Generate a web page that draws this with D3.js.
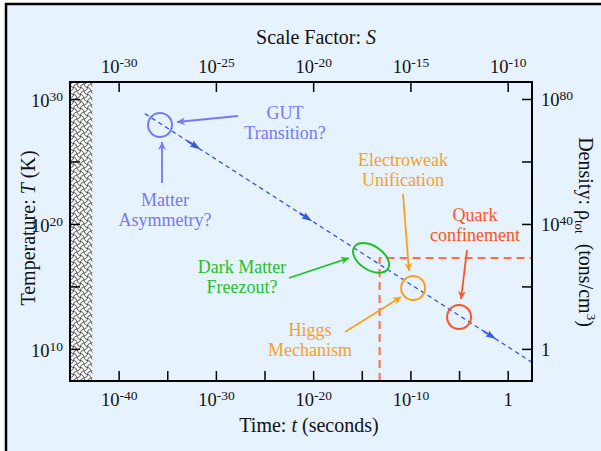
<!DOCTYPE html>
<html>
<head>
<meta charset="utf-8">
<script src="https://cdn.jsdelivr.net/npm/d3@7"></script>
<style>
  body { margin: 0; background: #fff; }
  text { font-family: "Liberation Serif", "Times New Roman", serif; }
</style>
</head>
<body>
<svg width="601" height="451"></svg>
<script>
(() => {

    // tick values
    var timeTicks = [1e-40, 1e-35, 1e-30, 1e-25, 1e-20, 1e-15, 1e-10, 1e-5, 1];
    var timeLabeled = [-40, -30, -20, -10, 0];
    var scaleTicks = [1e-30, 1e-25, 1e-20, 1e-15, 1e-10];
    var scaleLabeled = [-30, -25, -20, -15, -10];
    var tempTicks = [1e10, 1e15, 1e20, 1e25, 1e30];
    var tempLabeled = [10, 20, 30];
    var densTicks = [1, 1e20, 1e40, 1e60, 1e80];
    var densLabeled = [0, 40, 80];

    // cooling line T(t)
    var lineTimes = [5e-38, 300];
    var lineTemps = [6.7e28, 8.7e8];
    // little arrows along the line
    var flowTimes = [1e-32, 3e-21, 0.025];
    var flowTemps = [1.5e26, 2.7e20, 9.5e10];

    // events on the line
    var eventNames = ["GUT", "Electroweak", "Quark"];
    var eventTimes = [1.8e-36, 1.9e-10, 1e-5];
    var eventTemps = [8.3e27, 7.5e14, 3.6e12];
    var darkTime = 9e-15, darkTemp = 1.9e17;

    // dashed reference lines
    var refTime = 6.8e-14, refTemp = 1.9e17;
    var planckTime = 2e-43;

    var margin = { top: 82, right: 69, bottom: 70, left: 70 };
    var width = 601, height = 451;

    var svg = d3.select('svg');

    var bg = '#e6f2fe';
    var purple = '#7878f2', orange = '#f9a11b', green = '#1fc028', red = '#ff5422';

    // outer frame
    svg.append('rect').attr('x', 6).attr('y', 4).attr('width', 700).attr('height', 600)
        .attr('fill', bg).attr('stroke', '#000').attr('stroke-width', 2.5);

    // scales
    var x = d3.scaleLog().domain([1e-45, Math.pow(10, 2.5)]).range([margin.left, width - margin.right]);
    var xTop = d3.scaleLog().domain([Math.pow(10, -32.5), Math.pow(10, -8.75)]).range([margin.left, width - margin.right]);
    var y = d3.scaleLog().domain([Math.pow(10, 7.43), Math.pow(10, 31.36)]).range([height - margin.bottom, margin.top]);
    var yRight = d3.scaleLog().domain([Math.pow(10, -10.28), Math.pow(10, 85.44)]).range([height - margin.bottom, margin.top]);

    var defs = svg.append('defs');
    var pat = defs.append('pattern').attr('id', 'hatch').attr('patternUnits', 'userSpaceOnUse')
        .attr('width', 7).attr('height', 7);
    pat.append('rect').attr('width', 7).attr('height', 7).attr('fill', '#fff');
    pat.append('path').attr('d', 'M0,0 Q1,4 3.5,3.5 T7,7 M7,0 Q3,1 3.5,3.5 T0,7')
        .attr('stroke', '#222').attr('stroke-width', 0.75).attr('fill', 'none');

    [['purple', purple], ['orange', orange], ['green', green], ['red', red]].forEach(function (c) {
        defs.append('marker').attr('id', 'arr-' + c[0]).attr('viewBox', '0 0 10 10')
            .attr('refX', 10).attr('refY', 5).attr('markerUnits', 'userSpaceOnUse')
            .attr('markerWidth', 11).attr('markerHeight', 8).attr('orient', 'auto')
            .append('path').attr('d', 'M0,0 L10,5 L0,10 L3,5 Z').attr('fill', c[1]);
    });

    // hatched pre-Planck region
    svg.append('rect')
        .attr('x', x(1e-45)).attr('y', margin.top)
        .attr('width', x(planckTime) - x(1e-45))
        .attr('height', height - margin.bottom - margin.top)
        .attr('fill', 'url(#hatch)');

    // dashed reference lines
    svg.append('path')
        .attr('d', 'M' + x(refTime) + ',' + y(Math.pow(10, 7.43)) + 'V' + y(refTemp) + 'H' + (width - margin.right))
        .attr('fill', 'none').attr('stroke', '#ff6e42').attr('stroke-width', 2)
        .attr('stroke-dasharray', '8,5');

    // cooling line
    var lineData = lineTimes.map(function (t, i) { return { t: t, T: lineTemps[i] }; });
    svg.append('path')
        .datum(lineData)
        .attr('d', d3.line().x(function (d) { return x(d.t); }).y(function (d) { return y(d.T); }))
        .attr('fill', 'none').attr('stroke', '#3558dc').attr('stroke-width', 1.3)
        .attr('stroke-dasharray', '4.5,3.5');

    var ang = Math.atan2(y(lineTemps[1]) - y(lineTemps[0]), x(lineTimes[1]) - x(lineTimes[0])) * 180 / Math.PI;
    svg.selectAll('.flow')
        .data(flowTimes)
        .enter().append('path')
        .attr('class', 'flow')
        .attr('d', 'M-6,-3.5 L5,0 L-6,3.5 L-4,0 Z M-10,-1 L-4,-1 L-4,1 L-10,1 Z')
        .attr('fill', '#3558dc')
        .attr('transform', function (d, i) { return 'translate(' + x(d) + ',' + y(flowTemps[i]) + ') rotate(' + ang + ')'; });

    // event circles
    var eventColors = [purple, orange, red];
    svg.selectAll('.event')
        .data(eventNames)
        .enter().append('circle')
        .attr('class', 'event')
        .attr('cx', function (d, i) { return x(eventTimes[i]); })
        .attr('cy', function (d, i) { return y(eventTemps[i]); })
        .attr('r', 12)
        .attr('fill', 'none')
        .attr('stroke', function (d, i) { return eventColors[i]; })
        .attr('stroke-width', 2);

    svg.append('ellipse')
        .attr('cx', 0).attr('cy', 0).attr('rx', 20).attr('ry', 12)
        .attr('transform', 'translate(' + x(darkTime) + ',' + y(darkTemp) + ') rotate(33)')
        .attr('fill', 'none').attr('stroke', green).attr('stroke-width', 2);

    // annotation arrows and texts
    var notes = [
        { c: 'purple', col: purple, from: [238, 116], to: [177, 122], lines: ['GUT', 'Transition?'], tx: 285, ty: 119 },
        { c: 'purple', col: purple, from: [162, 183], to: [162, 142], lines: ['Matter', 'Asymmetry?'], tx: 165, ty: 206 },
        { c: 'orange', col: orange, from: [403, 194], to: [409, 271], lines: ['Electroweak', 'Unification'], tx: 403, ty: 166 },
        { c: 'orange', col: orange, from: [345, 332], to: [401, 297], lines: ['Higgs', 'Mechanism'], tx: 310, ty: 336 },
        { c: 'green', col: green, from: [289, 278], to: [349, 258], lines: ['Dark Matter', 'Freezout?'], tx: 242, ty: 273 },
        { c: 'red', col: red, from: [467, 250], to: [461, 299], lines: ['Quark', 'confinement'], tx: 475, ty: 221 }
    ];

    notes.forEach(function (n) {
        svg.append('line')
            .attr('x1', n.from[0]).attr('y1', n.from[1]).attr('x2', n.to[0]).attr('y2', n.to[1])
            .attr('stroke', n.col).attr('stroke-width', 1.8)
            .attr('marker-end', 'url(#arr-' + n.c + ')');
        var t = svg.append('text').attr('text-anchor', 'middle').attr('font-size', 18).attr('fill', n.col);
        n.lines.forEach(function (s, i) {
            t.append('tspan').attr('x', n.tx).attr('y', n.ty + i * 20).text(s);
        });
    });

    // axes
    function fmt(labeled) {
        return function (sel) {
            sel.each(function (d) {
                var e = Math.round(Math.log10(d));
                var t = d3.select(this);
                t.text(null);
                if (labeled.indexOf(e) < 0) return;
                if (e === 0) { t.text('1'); return; }
                t.append('tspan').text('10');
                t.append('tspan').attr('font-size', 13.5).attr('dy', -6).text(e);
            });
        };
    }

    function styleAxis(g) {
        g.select('.domain').remove();
        g.selectAll('.tick line').attr('stroke', '#000').attr('stroke-width', 1.5);
        g.selectAll('.tick text').attr('fill', '#111').attr('font-size', 18.5);
    }

    var gb = svg.append('g')
        .attr('transform', 'translate(' + [0, height - margin.bottom] + ')')
        .call(d3.axisBottom(x).tickValues(timeTicks).tickSizeInner(-10).tickSizeOuter(0));
    styleAxis(gb);
    gb.selectAll('.tick text').attr('y', 25).attr('dy', 0).call(fmt(timeLabeled));

    var gt = svg.append('g')
        .attr('transform', 'translate(' + [0, margin.top] + ')')
        .call(d3.axisTop(xTop).tickValues(scaleTicks).tickSizeInner(-10).tickSizeOuter(0));
    styleAxis(gt);
    gt.selectAll('.tick text').attr('y', -9).attr('dy', 0).call(fmt(scaleLabeled));

    var gl = svg.append('g')
        .attr('transform', 'translate(' + [margin.left, 0] + ')')
        .call(d3.axisLeft(y).tickValues(tempTicks).tickSizeInner(-10).tickSizeOuter(0));
    styleAxis(gl);
    gl.selectAll('.tick text').attr('x', -7).attr('y', 8).attr('dy', 0).call(fmt(tempLabeled));

    var gr = svg.append('g')
        .attr('transform', 'translate(' + [width - margin.right, 0] + ')')
        .call(d3.axisRight(yRight).tickValues(densTicks).tickSizeInner(-10).tickSizeOuter(0));
    styleAxis(gr);
    gr.selectAll('.tick text').attr('x', 9).attr('y', 7).attr('dy', 0).call(fmt(densLabeled));

    // plot frame
    svg.append('rect')
        .attr('x', margin.left).attr('y', margin.top)
        .attr('width', width - margin.left - margin.right)
        .attr('height', height - margin.top - margin.bottom)
        .attr('fill', 'none').attr('stroke', '#000').attr('stroke-width', 2);

    // axis titles
    var top = svg.append('text').attr('x', 316).attr('y', 44).attr('text-anchor', 'middle')
        .attr('font-size', 20).attr('fill', '#111');
    top.append('tspan').text('Scale Factor: ');
    top.append('tspan').attr('font-style', 'italic').text('S');

    var bot = svg.append('text').attr('x', 309).attr('y', 432).attr('text-anchor', 'middle')
        .attr('font-size', 20).attr('fill', '#111');
    bot.append('tspan').text('Time: ');
    bot.append('tspan').attr('font-style', 'italic').text('t');
    bot.append('tspan').text(' (seconds)');

    var lt = svg.append('text').attr('transform', 'translate(35,228) rotate(-90)')
        .attr('text-anchor', 'middle').attr('font-size', 20).attr('fill', '#111');
    lt.append('tspan').text('Temperature: ');
    lt.append('tspan').attr('font-style', 'italic').text('T');
    lt.append('tspan').text(' (K)');

    var rt = svg.append('text').attr('transform', 'translate(579,232) rotate(90)')
        .attr('text-anchor', 'middle').attr('font-size', 20).attr('fill', '#111');
    rt.append('tspan').text('Density: \u03c1');
    rt.append('tspan').attr('font-size', 13).attr('dy', 4).text('tot');
    rt.append('tspan').attr('dy', -4).text('\u2002(tons/cm');
    rt.append('tspan').attr('font-size', 13).attr('dy', -8).text('3');
    rt.append('tspan').attr('dy', 8).text(')');

})();
</script>
</body>
</html>
